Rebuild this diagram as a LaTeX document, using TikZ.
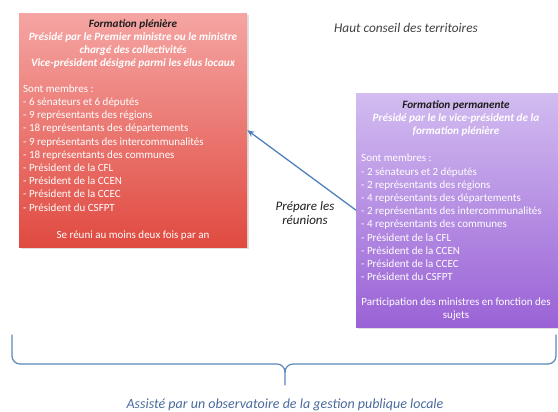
\documentclass[tikz,border=0pt]{standalone}
\usepackage{fontspec}
\setmainfont{Carlito}
\usetikzlibrary{arrows.meta,shadows}
\definecolor{redtop}{HTML}{F5A5A3}
\definecolor{redbot}{HTML}{E04A40}
\definecolor{purtop}{HTML}{D2BCF0}
\definecolor{purbot}{HTML}{9A62D6}
\definecolor{arrowblue}{HTML}{4F81BD}
\definecolor{bracec}{HTML}{5B87BA}
\definecolor{obstext}{HTML}{4A6A9C}
\definecolor{darktxt}{HTML}{1E1E1E}
\begin{document}
\begin{tikzpicture}[x=1pt,y=-1pt,
  panel/.style={draw=none, inner sep=0pt, anchor=north west,
    drop shadow={opacity=0.25, shadow xshift=1.5pt, shadow yshift=-1.5pt}},
  bodytxt/.style={inner sep=0pt, text=white, font=\fontsize{11}{13.2}\selectfont},
  headtxt/.style={inner sep=0pt, text=white, align=center,
    font=\fontsize{11.2}{13.2}\selectfont\bfseries\itshape},
  freetxt/.style={inner sep=0pt, text=darktxt, align=center,
    font=\fontsize{13}{14.5}\selectfont\itshape},
  linkarrow/.style={draw=arrowblue, line width=1.3pt, -{Stealth[length=7pt,width=6pt]}},
  bracepath/.style={draw=bracec, line width=1.2pt, line cap=round}]
\useasboundingbox (0,0) rectangle (558,412);

% ---- Formation plénière
\node[panel, top color=redtop, bottom color=redbot,
  minimum width=228pt, minimum height=234pt] (red) at (19,13) {};
\node[headtxt, anchor=north] (redhead) at (133,19)
  {{\color{darktxt}Formation plénière}\\
   Présidé par le Premier ministre ou le ministre\\
   chargé des collectivités\\
   Vice-président désigné parmi les élus locaux};
\node[bodytxt, anchor=north west, align=left] (redlist) at (23,84.5)
  {Sont membres :\\
   - 6 sénateurs et 6 députés\\
   - 9 représentants des régions\\
   - 18 représentants des départements\\
   - 9 représentants des intercommunalités\\
   - 18 représentants des communes\\
   - Président de la CFL\\
   - Président de la CCEN\\
   - Président de la CCEC\\
   - Président du CSFPT};
\node[bodytxt, anchor=north] (redfoot) at (133,230.5)
  {Se réuni au moins deux fois par an};

% ---- Formation permanente
\node[panel, top color=purtop, bottom color=purbot,
  minimum width=202pt, minimum height=234pt] (pur) at (356,93) {};
\node[headtxt, anchor=north] (purhead) at (456,100.5)
  {{\color{darktxt}Formation permanente}\\
   Présidé par le le vice-président de la\\
   formation plénière};
\node[bodytxt, anchor=north west, align=left] (purlist) at (361,154)
  {Sont membres :\\
   - 2 sénateurs et 2 députés\\
   - 2 représentants des régions\\
   - 4 représentants des départements\\
   - 2 représentants des intercommunalités\\
   - 4 représentants des communes\\
   - Président de la CFL\\
   - Président de la CCEN\\
   - Président de la CCEC\\
   - Président du CSFPT};
\node[bodytxt, anchor=north, align=center] (purfoot) at (456,297.5)
  {Participation des ministres en fonction des\\sujets};

% ---- free texts
\node[freetxt, font=\fontsize{13.3}{15}\selectfont\itshape, text=darktxt!85] (title) at (406,28)
  {Haut conseil des territoires};
\node[freetxt] (prep) at (305,213) {Prépare les\\réunions};

% ---- arrow
\draw[linkarrow] (pur.west) -- (red.east);

% ---- brace
\coordinate (bl) at (12,335);
\coordinate (br) at (556,335);
\coordinate (btip) at (285,385);
\draw[bracepath] (bl) -- (12,356) to[out=-90,in=180] (20,364) -- (277,364)
  to[out=0,in=90] (285,372) -- (btip);
\draw[bracepath] (285,372) to[out=90,in=180] (293,364) -- (548,364)
  to[out=0,in=-90] (556,356) -- (br);
\node[freetxt, font=\fontsize{14}{16}\selectfont\itshape, text=obstext] (obs) at (285,405)
  {Assisté par un observatoire de la gestion publique locale};
\end{tikzpicture}
\end{document}
